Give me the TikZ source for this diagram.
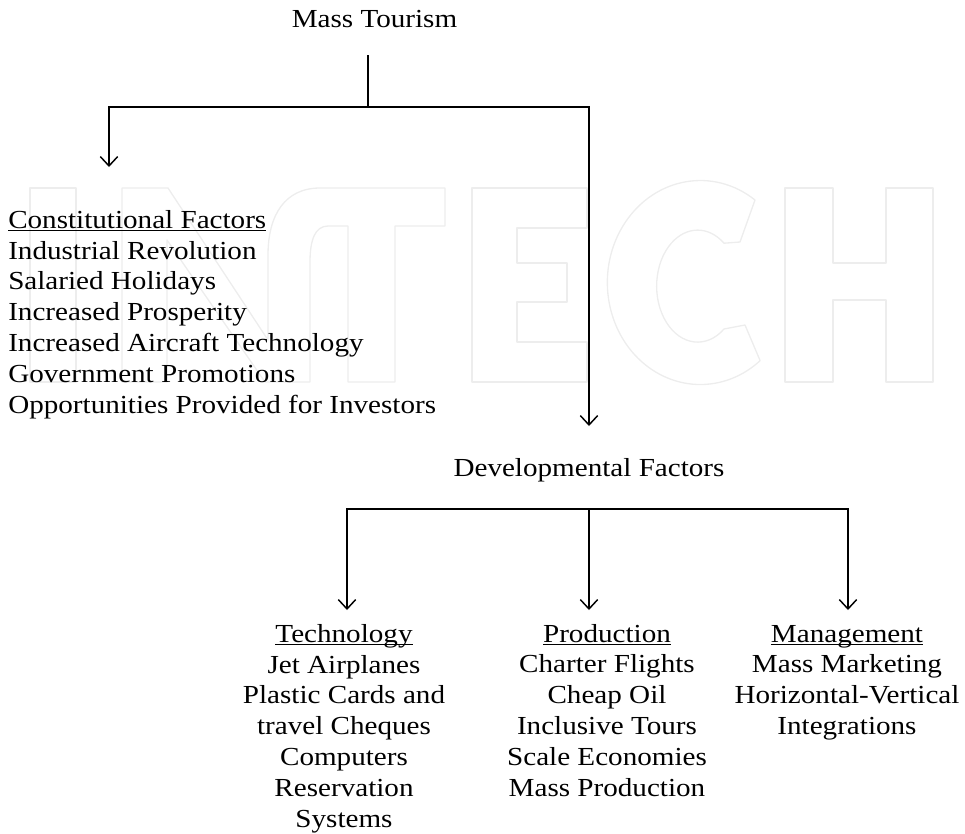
\documentclass[tikz,border=0pt]{standalone}
\usepackage{fontspec}
\setmainfont{Liberation Serif}[FakeStretch=1.12]
\usetikzlibrary{arrows.meta}
\newcommand{\myul}[1]{\setbox0\hbox{#1}\rlap{\rule[-2pt]{\wd0}{0.8pt}}\box0}
\tikzset{
  txt/.style={inner sep=0pt, font=\fontsize{19.5}{23.1}\selectfont},
  conn/.style={line width=1.1pt},
  arr/.style={conn, -{Straight Barb[length=7pt,width=13pt]}},
  wm/.style={draw=black!7, line width=1pt, line join=round}
}
\begin{document}
\begin{tikzpicture}[x=0.75pt,y=-0.75pt]
\useasboundingbox (0,0) rectangle (965,833);
% watermark
\draw[wm] (30,188) rectangle (76,382);
\draw[wm] (122,382) -- (122,188) -- (168,188) -- (268,340) -- (268,255)
  .. controls (268,215) and (285,188) .. (320,188) -- (445,188) -- (445,226)
  -- (395,226) -- (395,382) -- (348,382) -- (348,226) -- (328,226)
  .. controls (315,226) and (310,240) .. (310,262) -- (310,382) -- (265,382)
  -- (167,240) -- (167,382) -- cycle;
\draw[wm] (472,188) -- (587,188) -- (587,228) -- (517,228) -- (517,263) -- (567,263)
  -- (567,302) -- (517,302) -- (517,342) -- (587,342) -- (587,382) -- (472,382) -- cycle;
\draw[wm] (755,200) arc[start angle=-54, end angle=-310, x radius=93, y radius=102]
  -- (745,325) -- (724,329) arc[start angle=50, end angle=310, x radius=41, y radius=56]
  -- (740,242) -- cycle;
\draw[wm] (785,188) -- (833,188) -- (833,263) -- (886,263) -- (886,188) -- (933,188)
  -- (933,382) -- (886,382) -- (886,300) -- (833,300) -- (833,382) -- (785,382) -- cycle;
% nodes (multi-line nodes: base = baseline of last line)
\node[txt, anchor=base] (mt) at (374.5,27) {Mass Tourism};
\node[txt, anchor=base west, align=left] (cf) at (8,413) {\myul{Constitutional Factors}\\
  Industrial Revolution\\ Salaried Holidays\\ Increased Prosperity\\
  Increased Aircraft Technology\\ Government Promotions\\
  Opportunities Provided for Investors};
\node[txt, anchor=base] (df) at (589,476) {Developmental Factors};
\node[txt, anchor=base, align=center] (tech) at (344,827) {\myul{Technology}\\
  Jet Airplanes\\ Plastic Cards and\\ travel Cheques\\ Computers\\ Reservation\\ Systems};
\node[txt, anchor=base, align=center] (prod) at (607,796) {\myul{Production}\\
  Charter Flights\\ Cheap Oil\\ Inclusive Tours\\ Scale Economies\\ Mass Production};
\node[txt, anchor=base, align=center] (mgmt) at (847,734.5) {\myul{Management}\\
  Mass Marketing\\ Horizontal-Vertical\\ Integrations};
% connector coordinates
\coordinate (mtstem) at (368,55);
\coordinate (j1) at (368,107);
\coordinate (tipL) at (109,167);
\coordinate (tipR) at (589,426);
\coordinate (j2) at (589,509);
\coordinate (tipT) at (347,610);
\coordinate (tipP) at (589,610);
\coordinate (tipM) at (848,610);
% connectors
\draw[conn] (mtstem) -- (j1);
\draw[arr] (j1) -| (tipL);
\draw[arr] (j1) -| (tipR);
\draw[arr] (j2) -| (tipT);
\draw[arr] (j2) -- (tipP);
\draw[arr] (j2) -| (tipM);
\end{tikzpicture}
\end{document}
